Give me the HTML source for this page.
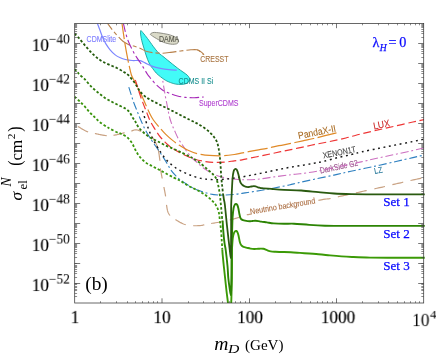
<!DOCTYPE html><html><head><meta charset="utf-8"><title>plot</title><style>
html,body{margin:0;padding:0;background:#fff;}
#c{position:relative;width:436px;height:354px;overflow:hidden;background:#fff;font-family:"Liberation Serif", serif;color:#000;will-change:transform;}
.t{position:absolute;white-space:nowrap;line-height:1;}
.yl{position:absolute;white-space:nowrap;line-height:1;font-size:18px;right:366.5px;transform-origin:100% 50%;transform:translate(-0.2px,0.4px) scale(0.95,0.94);will-change:transform;-webkit-text-stroke:0.18px #000;}
.yl sup{font-size:14px;vertical-align:baseline;position:relative;top:-8.1px;left:0px;-webkit-text-stroke:0.05px #000;}
.xl{position:absolute;white-space:nowrap;line-height:1;font-size:18px;top:308.4px;transform:translate(-50%,0.5px) scale(0.955,0.95);will-change:transform;-webkit-text-stroke:0.18px #000;}
.bl{color:#0a0aff;-webkit-text-stroke:0.25px #0a0aff;}
</style></head><body><div id="c">
<svg width="436" height="354" viewBox="0 0 436 354" style="position:absolute;left:0;top:0">
<defs><clipPath id="cp"><rect x="74.7" y="23.5" width="350.2" height="279.5"/></clipPath></defs>
<g clip-path="url(#cp)" fill="none" stroke-linecap="butt" stroke-linejoin="round">
<path d="M77.9 126.4 L78.29 126.64 L78.82 126.97 L79.44 127.37 L80.13 127.8 L80.86 128.25 L81.61 128.7 L82.33 129.12 L83 129.5 L83.63 129.84 L84.24 130.17 L84.84 130.49 L85.44 130.79 L86.06 131.09 L86.71 131.37 L87.38 131.64 L88.1 131.9 L88.1 131.9 M94.9 133.5 L95.7 133.68 L96.48 133.86 L97.26 134.03 L98.02 134.2 L98.77 134.36 L99.52 134.52 L100.26 134.66 L101 134.8 L101.72 134.93 L102.43 135.06 L103.12 135.18 L103.81 135.3 L104.5 135.4 L105.21 135.49 L105.94 135.56 L106.7 135.6 L106.7 135.6 M113.5 135.3 L114.25 135.2 L114.96 135.09 L115.65 134.96 L116.33 134.82 L116.99 134.68 L117.65 134.52 L118.32 134.36 L119 134.2 L119.69 134.03 L120.37 133.86 L121.05 133.68 L121.73 133.49 L122.42 133.29 L123.13 133.1 L123.85 132.9 L124.6 132.7 L124.6 132.7 M131.2 131 L131.89 130.81 L132.54 130.6 L133.15 130.39 L133.74 130.2 L134.32 130.03 L134.9 129.9 L135.49 129.82 L136.1 129.8 L136.73 129.86 L137.36 129.98 L137.99 130.15 L138.62 130.36 L139.26 130.59 L139.91 130.83 L140.55 131.07 L141.2 131.3 L141.2 131.3 M151.4 136.1 L151.94 136.68 L152.47 137.32 L152.98 138.01 L153.47 138.75 L153.95 139.52 L154.42 140.33 L154.87 141.16 L155.3 142 L155.72 142.85 L156.12 143.72 L156.51 144.61 L156.89 145.53 L157.24 146.49 L157.58 147.5 L157.9 148.57 L158.2 149.7 L158.48 150.94 L158.74 152.3 L158.98 153.73 L159.2 155.2 L159.4 156.67 L159.59 158.1 L159.75 159.46 L159.9 160.7 L159.9 160.7 M160.4 168.4 L160.47 169.03 L160.53 169.52 L160.59 169.92 L160.66 170.28 L160.73 170.62 L160.81 170.99 L160.9 171.44 L161 172 L161.12 172.66 L161.25 173.37 L161.38 174.14 L161.53 174.94 L161.69 175.79 L161.85 176.67 L162.02 177.57 L162.2 178.5 L162.2 178.5 M163.9 187 L164.12 188.13 L164.34 189.29 L164.57 190.46 L164.8 191.65 L165.02 192.84 L165.23 194.01 L165.43 195.17 L165.6 196.3 L165.6 196.3 M166.5 204.8 L166.64 205.75 L166.78 206.69 L166.92 207.6 L167.07 208.49 L167.23 209.34 L167.4 210.14 L167.59 210.9 L167.8 211.6 L168.03 212.24 L168.28 212.82 L168.55 213.35 L168.82 213.83 L169.11 214.28 L169.41 214.71 L169.7 215.11 L170 215.5 L170 215.5 M175.5 219.6 L176.04 219.92 L176.63 220.29 L177.26 220.68 L177.92 221.08 L178.6 221.49 L179.28 221.89 L179.95 222.26 L180.6 222.6 L181.22 222.91 L181.82 223.21 L182.4 223.5 L182.99 223.78 L183.6 224.03 L184.25 224.27 L184.94 224.5 L185.7 224.7 L185.7 224.7 M193.3 225.7 L194.28 225.74 L195.3 225.75 L196.33 225.73 L197.36 225.71 L198.36 225.66 L199.3 225.61 L200.15 225.56 L200.9 225.5 L201.5 225.44 L201.97 225.37 L202.33 225.3 L202.65 225.22 L202.96 225.13 L203.31 225.03 L203.74 224.92 L204.3 224.8 L204.3 224.8 M211.1 223.5 L212.42 223.28 L213.95 223.04 L215.61 222.78 L217.34 222.51 L219.06 222.24 L220.7 221.98 L222.21 221.73 L223.5 221.5 L223.5 221.5 M229.7 220 L230.75 219.72 L231.91 219.4 L233.14 219.07 L234.42 218.71 L235.7 218.35 L236.97 217.99 L238.18 217.64 L239.3 217.3 L239.3 217.3 M246.8 214.8 L247.31 214.66 L247.5 214.63 L247.53 214.64 L247.56 214.68 L247.75 214.68 L248.28 214.61 L249.31 214.43 L251 214.1 L251 214.1 M318.4 200.3 L321.22 199.79 L323.42 199.43 L325.13 199.18 L326.47 199.02 L327.57 198.9 L328.54 198.8 L329.51 198.68 L330.6 198.5 L330.6 198.5 M337.84 196.8 L339.27 196.5 L340.85 196.16 L342.55 195.8 L344.33 195.42 L346.16 195.04 L348 194.65 L348.61 194.52 M355.91 192.91 L357.8 192.49 L359.67 192.06 L361.49 191.65 L363.21 191.27 L364.8 190.91 L366.24 190.59 L366.68 190.49 M374.4 188.8 L375.68 188.52 L377.02 188.23 L378.41 187.94 L379.81 187.64 L381.19 187.34 L382.54 187.05 L383.82 186.77 L385 186.5 L385 186.5 M392.4 184.7 L393.61 184.42 L394.94 184.11 L396.35 183.78 L397.81 183.44 L399.26 183.11 L400.67 182.79 L401.99 182.48 L403.2 182.2 L403.2 182.2 M410.5 180.5 L411.76 180.23 L413.23 179.91 L414.8 179.58 L416.41 179.24 L417.95 178.92 L419.36 178.63 L420.53 178.38 L421.4 178.2 L421.4 178.2" stroke="#c9a283" stroke-width="1.2"/>
<path d="M150.3 34.2 C150.37 33.82 151.15 33.3 151.8 33 C152.45 32.7 153.03 32.43 154.2 32.4 C155.37 32.37 157.28 32.62 158.8 32.8 C160.32 32.98 161.78 33.23 163.3 33.5 C164.82 33.77 166.37 34.02 167.9 34.4 C169.43 34.78 171.12 35.27 172.5 35.8 C173.88 36.33 175.28 36.92 176.2 37.6 C177.12 38.28 177.67 39.13 178 39.9 C178.33 40.67 178.42 41.55 178.2 42.2 C177.98 42.85 177.65 43.45 176.7 43.8 C175.75 44.15 173.97 44.33 172.5 44.3 C171.03 44.27 169.43 43.95 167.9 43.6 C166.37 43.25 164.82 42.82 163.3 42.2 C161.78 41.58 160.32 40.73 158.8 39.9 C157.28 39.07 155.43 37.97 154.2 37.2 C152.97 36.43 152.05 35.8 151.4 35.3 C150.75 34.8 150.23 34.58 150.3 34.2Z" fill="#dadac8" stroke="#85857a" stroke-width="0.9"/>
<path d="M140.8 30.6 C141.17 30.37 142.08 31.8 142.8 32.6 C143.52 33.4 144.32 34.42 145.1 35.4 C145.88 36.38 146.65 37.37 147.5 38.5 C148.35 39.63 149.2 40.82 150.2 42.2 C151.2 43.58 152.37 45.3 153.5 46.8 C154.63 48.3 155.92 49.97 157 51.2 C158.08 52.43 159.02 53.35 160 54.2 C160.98 55.05 161.65 55.32 162.9 56.3 C164.15 57.28 165.87 58.77 167.5 60.1 C169.13 61.43 170.97 62.92 172.7 64.3 C174.43 65.68 176.18 67.12 177.9 68.4 C179.62 69.68 181.45 70.88 183 72 C184.55 73.12 186.17 74.15 187.2 75.1 C188.23 76.05 188.78 76.93 189.2 77.7 C189.62 78.47 189.87 78.93 189.7 79.7 C189.53 80.47 188.97 81.6 188.2 82.3 C187.43 83 186.3 83.55 185.1 83.9 C183.9 84.25 182.55 84.37 181 84.4 C179.45 84.43 177.53 84.4 175.8 84.1 C174.07 83.8 172.32 83.23 170.6 82.6 C168.88 81.97 167.22 81.3 165.5 80.3 C163.78 79.3 161.85 77.82 160.3 76.6 C158.75 75.38 157.48 74.37 156.2 73 C154.92 71.63 153.63 69.77 152.6 68.4 C151.57 67.03 150.83 66.28 150 64.8 C149.17 63.32 148.32 61.3 147.6 59.5 C146.88 57.7 146.27 55.75 145.7 54 C145.13 52.25 144.75 50.83 144.2 49 C143.65 47.17 142.88 44.75 142.4 43 C141.92 41.25 141.6 40 141.3 38.5 C141 37 140.68 35.32 140.6 34 C140.52 32.68 140.43 30.83 140.8 30.6Z" fill="#42fbf7" stroke="#17a09a" stroke-width="0.9"/>
<text x="86.6" y="42" fill="#7b7bff" stroke="#7b7bff" stroke-width="0.1" font-size="8.7" textLength="29.6" lengthAdjust="spacingAndGlyphs" font-family="Liberation Sans, sans-serif">CDMSlite</text>
<text x="159" y="41.9" fill="#55554a" stroke="#55554a" stroke-width="0.1" font-size="8.7" textLength="20.3" lengthAdjust="spacingAndGlyphs" font-family="Liberation Sans, sans-serif">DAMA</text>
<text x="200.3" y="61.6" fill="#a8733f" stroke="#a8733f" stroke-width="0.1" font-size="8.7" textLength="28.2" lengthAdjust="spacingAndGlyphs" font-family="Liberation Sans, sans-serif">CRESST</text>
<text x="178.6" y="83.7" fill="#198f8f" stroke="#198f8f" stroke-width="0.1" font-size="8.7" textLength="34.6" lengthAdjust="spacingAndGlyphs" font-family="Liberation Sans, sans-serif">CDMS II Si</text>
<text x="199" y="106" fill="#b03fd0" stroke="#b03fd0" stroke-width="0.1" font-size="8.7" textLength="39.5" lengthAdjust="spacingAndGlyphs" font-family="Liberation Sans, sans-serif">SuperCDMS</text>
<text x="298.8" y="139.1" transform="rotate(-11.3 298.8 139.1)" fill="#a8691f" stroke="#a8691f" stroke-width="0.1" font-size="9.8" textLength="38.3" lengthAdjust="spacingAndGlyphs" font-family="Liberation Sans, sans-serif">PandaX-II</text>
<text x="373.9" y="129.4" transform="rotate(-11.2 373.9 129.4)" fill="#cc2424" stroke="#cc2424" stroke-width="0.1" font-size="9.8" textLength="16.7" lengthAdjust="spacingAndGlyphs" font-family="Liberation Sans, sans-serif">LUX</text>
<text x="323.4" y="158.5" transform="rotate(-11.3 323.4 158.5)" fill="#444444" stroke="#444444" stroke-width="0.1" font-size="8.6" textLength="33.6" lengthAdjust="spacingAndGlyphs" font-family="Liberation Sans, sans-serif">XENON1T</text>
<text x="320.4" y="173.5" transform="rotate(-11.7 320.4 173.5)" fill="#98508a" stroke="#98508a" stroke-width="0.1" font-size="8.6" textLength="39" lengthAdjust="spacingAndGlyphs" font-family="Liberation Sans, sans-serif">DarkSide G2</text>
<text x="374.8" y="174" transform="rotate(-11 374.8 174)" fill="#2a7a9c" stroke="#2a7a9c" stroke-width="0.1" font-size="8.6" textLength="8.2" lengthAdjust="spacingAndGlyphs" font-family="Liberation Sans, sans-serif">LZ</text>
<text x="250.6" y="214.4" transform="rotate(-9.65 250.6 214.4)" fill="#a8683a" stroke="#a8683a" stroke-width="0.1" font-size="8.3" textLength="66" lengthAdjust="spacingAndGlyphs" font-family="Liberation Sans, sans-serif">Neutrino background</text>
<path d="M107.6 23.5 C108.45 24.63 111 28.18 112.7 30.3 C114.4 32.42 116.1 34.37 117.8 36.2 C119.5 38.03 121.07 39.88 122.9 41.3 C124.73 42.72 126.97 43.92 128.8 44.7 C130.63 45.48 132.03 45.4 133.9 46 C135.77 46.6 137.85 47.38 140 48.3 C142.15 49.22 144.53 50.77 146.8 51.5 C149.07 52.23 151.07 52.42 153.6 52.7 C156.13 52.98 159.17 53.25 162 53.2 C164.83 53.15 167.48 52.77 170.6 52.4 C173.72 52.03 177.32 51.43 180.7 51 C184.08 50.57 188.2 50 190.9 49.8 C193.6 49.6 195.2 49.37 196.9 49.8 C198.6 50.23 199.97 51.55 201.1 52.4 C202.23 53.25 203.27 54.48 203.7 54.9" stroke="#b8804a" stroke-width="1.1" stroke-dasharray="14 3 4 3" stroke-dashoffset="6.49"/>
<path d="M97.4 23.5 C97.83 24.63 99.15 28.05 100 30.3 C100.85 32.55 101.52 34.73 102.5 37 C103.48 39.27 104.63 41.77 105.9 43.9 C107.17 46.03 108.55 47.97 110.1 49.8 C111.65 51.63 113.5 53.57 115.2 54.9 C116.9 56.23 118.6 57.03 120.3 57.8 C122 58.57 123.42 59.05 125.4 59.5 C127.38 59.95 129.77 60.32 132.2 60.5 C134.63 60.68 137.85 60.2 140 60.6 C142.15 61 143.12 61.98 145.1 62.9 C147.08 63.82 149.35 65.18 151.9 66.1 C154.45 67.02 157.57 67.8 160.4 68.4 C163.23 69 166.17 69.42 168.9 69.7 C171.63 69.98 175.48 70.03 176.8 70.1" stroke="#7c86ff" stroke-width="1.2"/>
<path d="M123.4 23.5 C123.73 24.92 124.63 29.17 125.4 32 C126.17 34.83 127 37.83 128 40.5 C129 43.17 130.13 45.47 131.4 48 C132.67 50.53 134.17 53.33 135.6 55.7 C137.03 58.07 138.7 60.22 140 62.2 C141.3 64.18 142.13 65.55 143.4 67.6 C144.67 69.65 146.47 72.8 147.6 74.5 C148.73 76.2 148.92 76.25 150.2 77.8 C151.48 79.35 153.32 81.82 155.3 83.8 C157.28 85.78 159.83 88.15 162.1 89.7 C164.37 91.25 166.35 92.05 168.9 93.1 C171.45 94.15 174.58 95.28 177.4 96 C180.22 96.72 182.98 97.12 185.8 97.4 C188.62 97.68 191.32 97.77 194.3 97.7 C197.28 97.63 202.13 97.12 203.7 97" stroke="#a628b8" stroke-width="1.1" stroke-dasharray="9.5 3 2.5 3" stroke-dashoffset="1.01"/>
<path d="M162.8 80.8 C162.97 81.87 163.37 84.58 163.8 87.2 C164.23 89.82 164.88 93.7 165.4 96.5 C165.92 99.3 166.42 101.5 166.9 104 C167.38 106.5 167.8 109.08 168.3 111.5 C168.8 113.92 169.3 116.33 169.9 118.5 C170.5 120.67 171.17 122.58 171.9 124.5 C172.63 126.42 173.22 127.6 174.3 130 C175.38 132.4 176.98 136.32 178.4 138.9 C179.82 141.48 181.22 143.13 182.8 145.5 C184.38 147.87 186.03 150.7 187.9 153.1 C189.77 155.5 192.48 158.35 194 159.9 C195.52 161.45 195.37 160.98 197 162.4 C198.63 163.82 201.53 166.7 203.8 168.4 C206.07 170.1 208.33 171.38 210.6 172.6 C212.87 173.82 214.87 174.8 217.4 175.7 C219.93 176.6 222.98 177.43 225.8 178 C228.62 178.57 231.6 178.82 234.3 179.1 C237 179.38 238.22 179.67 242 179.7 C245.78 179.73 251.67 179.77 257 179.3 C262.33 178.83 268.35 177.67 274 176.9 C279.65 176.13 286.57 175.22 290.9 174.7 C295.23 174.18 295.65 174.38 300 173.8 C304.35 173.22 310.33 172.42 317 171.2 C323.67 169.98 332.65 168.05 340 166.5 C347.35 164.95 354.6 163.35 361.1 161.9 C367.6 160.45 373.18 159.08 379 157.8 C384.82 156.52 390.35 155.42 396 154.2 C401.65 152.98 408.23 151.53 412.9 150.5 C417.57 149.47 422.15 148.42 424 148" stroke="#cc70c0" stroke-width="1.1" stroke-dasharray="8 2.8 2 2.8" stroke-dashoffset="10.74"/>
<path d="M128.8 87.2 C129.23 88.57 130.55 92.77 131.4 95.4 C132.25 98.03 132.92 100.32 133.9 103 C134.88 105.68 136.23 108.83 137.3 111.5 C138.37 114.17 139.08 116.17 140.3 119 C141.52 121.83 143.17 125.65 144.6 128.5 C146.03 131.35 147.33 133.55 148.9 136.1 C150.47 138.65 152.45 141.53 154 143.8 C155.55 146.07 156.65 147.43 158.2 149.7 C159.75 151.97 161.75 155 163.3 157.4 C164.85 159.8 166.23 161.98 167.5 164.1 C168.77 166.22 169.62 168.25 170.9 170.1 C172.18 171.95 173.78 173.68 175.2 175.2 C176.62 176.72 177.93 178 179.4 179.2 C180.87 180.4 181.83 180.97 184 182.4 C186.17 183.83 189.58 186.33 192.4 187.8 C195.22 189.27 198.07 190.2 200.9 191.2 C203.73 192.2 206.57 193.17 209.4 193.8 C212.23 194.43 215.13 194.8 217.9 195 C220.67 195.2 222.98 195.13 226 195 C229.02 194.87 232.83 194.55 236 194.2 C239.17 193.85 242 193.35 245 192.9 C248 192.45 250.95 191.98 254 191.5 C257.05 191.02 260.13 190.55 263.3 190 C266.47 189.45 268.68 189.03 273 188.2 C277.32 187.37 285.08 185.88 289.2 185 C293.32 184.12 293.57 183.85 297.7 182.9 C301.83 181.95 307.95 180.6 314 179.3 C320.05 178 327.85 176.45 334 175.1 C340.15 173.75 344.23 172.65 350.9 171.2 C357.57 169.75 366.48 168.02 374 166.4 C381.52 164.78 389.52 162.97 396 161.5 C402.48 160.03 408.23 158.67 412.9 157.6 C417.57 156.53 422.15 155.52 424 155.1" stroke="#2f80c0" stroke-width="1.1" stroke-dasharray="8 2.8 2 2.8"/>
<path d="M142.5 110.9 C142.92 112.18 144.08 115.82 145 118.6 C145.92 121.38 147.07 124.97 148 127.6 C148.93 130.23 149.6 132.13 150.6 134.4 C151.6 136.67 152.6 138.65 154 141.2 C155.4 143.75 157.17 146.87 159 149.7 C160.83 152.53 163.02 155.8 165 158.2 C166.98 160.6 168.78 162.27 170.9 164.1 C173.02 165.93 175.43 167.78 177.7 169.2 C179.97 170.62 182.37 171.6 184.5 172.6 C186.63 173.6 188.42 174.4 190.5 175.2 C192.58 176 194.5 176.75 197 177.4 C199.5 178.05 202.02 178.72 205.5 179.1 C208.98 179.48 213.82 179.78 217.9 179.7 C221.98 179.62 226.32 179 230 178.6 C233.68 178.2 236.63 177.83 240 177.3 C243.37 176.77 246.8 176.05 250.2 175.4 C253.6 174.75 257 174.1 260.4 173.4 C263.8 172.7 267.22 171.92 270.6 171.2 C273.98 170.48 277.32 169.78 280.7 169.1 C284.08 168.42 287.22 167.75 290.9 167.1 C294.58 166.45 298.95 165.85 302.8 165.2 C306.65 164.55 310.65 163.82 314 163.2 C317.35 162.58 319.07 162.4 322.9 161.5 C326.73 160.6 332.3 158.95 337 157.8 C341.7 156.65 346.93 155.6 351.1 154.6 C355.27 153.6 357.35 152.85 362 151.8 C366.65 150.75 373.33 149.45 379 148.3 C384.67 147.15 390.35 146.03 396 144.9 C401.65 143.77 408.23 142.45 412.9 141.5 C417.57 140.55 422.15 139.58 424 139.2" stroke="#1a1a1a" stroke-width="1.45" stroke-dasharray="1.9 3.6"/>
<path d="M122 23.5 C122.28 25.48 123.13 31.58 123.7 35.4 C124.27 39.22 124.83 43.02 125.4 46.4 C125.97 49.78 126.47 52.45 127.1 55.7 C127.73 58.95 128.48 62.68 129.2 65.9 C129.92 69.12 130.57 72.57 131.4 75 C132.23 77.43 133.13 78.33 134.2 80.5 C135.27 82.67 136.55 85.48 137.8 88 C139.05 90.52 140.48 93.05 141.7 95.6 C142.92 98.15 143.83 100.47 145.1 103.3 C146.37 106.13 147.92 109.82 149.3 112.6 C150.68 115.38 151.78 117.63 153.4 120 C155.02 122.37 156.93 124.4 159 126.8 C161.07 129.2 163.53 132.13 165.8 134.4 C168.07 136.67 170.33 138.58 172.6 140.4 C174.87 142.22 176.92 143.7 179.4 145.3 C181.88 146.9 184.57 148.62 187.5 150 C190.43 151.38 194 152.75 197 153.6 C200 154.45 202.67 154.75 205.5 155.1 C208.33 155.45 210.9 155.6 214 155.7 C217.1 155.8 220.72 155.9 224.1 155.7 C227.48 155.5 231.48 154.92 234.3 154.5 C237.12 154.08 238.63 153.67 241 153.2 C243.37 152.73 245.83 152.22 248.5 151.7 C251.17 151.18 253.88 150.67 257 150.1 C260.12 149.53 263.53 149.03 267.2 148.3 C270.87 147.57 275.05 146.52 279 145.7 C282.95 144.88 286.93 144.22 290.9 143.4 C294.87 142.58 299 141.62 302.8 140.8 C306.6 139.98 310 139.35 313.7 138.5 C317.4 137.65 321.2 136.65 325 135.7 C328.8 134.75 334.58 133.28 336.5 132.8" stroke="#e08a28" stroke-width="1.2" stroke-dasharray="20.3 3.5" stroke-dashoffset="4.56"/>
<path d="M135.3 80 C135.58 80.83 136.22 82.53 137 85 C137.78 87.47 138.93 91.62 140 94.8 C141.07 97.98 142.27 101.13 143.4 104.1 C144.53 107.07 145.75 109.95 146.8 112.6 C147.85 115.25 148.5 117.5 149.7 120 C150.9 122.5 152.45 125.05 154 127.6 C155.55 130.15 157.17 132.88 159 135.3 C160.83 137.72 163.02 140.12 165 142.1 C166.98 144.08 168.78 145.65 170.9 147.2 C173.02 148.75 175.15 149.98 177.7 151.4 C180.25 152.82 183.32 154.4 186.2 155.7 C189.08 157 191.78 158.22 195 159.2 C198.22 160.18 202.33 161.07 205.5 161.6 C208.67 162.13 210.9 162.32 214 162.4 C217.1 162.48 220.72 162.37 224.1 162.1 C227.48 161.83 231.32 161.18 234.3 160.8 C237.28 160.42 239.35 160.25 242 159.8 C244.65 159.35 247.13 158.72 250.2 158.1 C253.27 157.48 257 156.8 260.4 156.1 C263.8 155.4 267.22 154.63 270.6 153.9 C273.98 153.17 277.32 152.42 280.7 151.7 C284.08 150.98 287.22 150.37 290.9 149.6 C294.58 148.83 298.95 147.93 302.8 147.1 C306.65 146.27 309.63 145.5 314 144.6 C318.37 143.7 323.68 142.8 329 141.7 C334.32 140.6 340.4 139.33 345.9 138 C351.4 136.67 356.48 135.08 362 133.7 C367.52 132.32 373.33 131 379 129.7 C384.67 128.4 390.35 127.18 396 125.9 C401.65 124.62 408.23 123.05 412.9 122 C417.57 120.95 422.15 120 424 119.6" stroke="#ee3535" stroke-width="1.2" stroke-dasharray="7.8 3.7" stroke-dashoffset="11.48"/>
<path d="M74.5 96.7 C75.35 97.47 77.9 99.68 79.6 101.3 C81.3 102.92 83 104.55 84.7 106.4 C86.4 108.25 88.1 110.57 89.8 112.4 C91.5 114.23 93.2 115.77 94.9 117.4 C96.6 119.03 98.03 120.63 100 122.2 C101.97 123.77 105.02 125.7 106.7 126.8 C108.38 127.9 108.4 127.9 110.1 128.8 C111.8 129.7 115.08 131.37 116.9 132.2 C118.72 133.03 119.35 133 121 133.8 C122.65 134.6 124.98 135.48 126.8 137 C128.62 138.52 130.48 140.78 131.9 142.9 C133.32 145.02 134.03 147.43 135.3 149.7 C136.57 151.97 137.8 154.38 139.5 156.5 C141.2 158.62 143.37 160.78 145.5 162.4 C147.63 164.02 150.05 164.98 152.3 166.2 C154.55 167.42 156.8 168.53 159 169.7 C161.2 170.87 163.03 171.88 165.5 173.2 C167.97 174.52 171.48 176.42 173.8 177.6 C176.12 178.78 177.7 179.37 179.4 180.3 C181.1 181.23 182.12 182.08 184 183.2 C185.88 184.32 188.17 185.67 190.7 187 C193.23 188.33 196.65 189.78 199.2 191.2 C201.75 192.62 203.87 193.93 206 195.5 C208.13 197.07 210.3 198.92 212 200.6 C213.7 202.28 215.07 203.63 216.2 205.6 C217.33 207.57 218.18 209.85 218.8 212.4 C219.42 214.95 219.53 217.97 219.9 220.9 C220.27 223.83 220.7 226.82 221 230 C221.3 233.18 221.48 236.73 221.7 240 C221.92 243.27 222.2 248 222.3 249.6" stroke="#3a960c" stroke-width="1.8" stroke-dasharray="2.5 2.0"/>
<path d="M74.5 69 C75.07 69.62 77.05 71.73 77.9 72.7 C78.75 73.67 78.47 73.72 79.6 74.8 C80.73 75.88 82.72 77.18 84.7 79.2 C86.68 81.22 89.23 84.63 91.5 86.9 C93.77 89.17 96.05 90.97 98.3 92.8 C100.55 94.63 102.75 96.4 105 97.9 C107.25 99.4 109.53 100.58 111.8 101.8 C114.07 103.02 116.33 104.07 118.6 105.2 C120.87 106.33 123.55 107.4 125.4 108.6 C127.25 109.8 128.42 110.78 129.7 112.4 C130.98 114.02 132.12 116.7 133.1 118.3 C134.08 119.9 134.7 120.52 135.6 122 C136.5 123.48 137.13 125.42 138.5 127.2 C139.87 128.98 141.78 130.93 143.8 132.7 C145.82 134.47 148.33 136.38 150.6 137.8 C152.87 139.22 154.87 139.92 157.4 141.2 C159.93 142.48 162.98 144.17 165.8 145.5 C168.62 146.83 171.47 147.93 174.3 149.2 C177.13 150.47 180.25 151.88 182.8 153.1 C185.35 154.32 187.8 155.57 189.6 156.5 C191.4 157.43 191.8 157.57 193.6 158.7 C195.4 159.83 198.07 161.5 200.4 163.3 C202.73 165.1 205.5 167.67 207.6 169.5 C209.7 171.33 211.53 172.72 213 174.3 C214.47 175.88 215.47 176.88 216.4 179 C217.33 181.12 218.02 184.25 218.6 187 C219.18 189.75 219.53 192.67 219.9 195.5 C220.27 198.33 220.52 201.18 220.8 204 C221.08 206.82 221.35 209.67 221.6 212.4 C221.85 215.13 222.18 219.07 222.3 220.4" stroke="#2f7d0c" stroke-width="1.8" stroke-dasharray="2.5 2.0"/>
<path d="M74.5 33.7 C75.2 34.4 77.28 36.35 78.7 37.9 C80.12 39.45 81.43 41.15 83 43 C84.57 44.85 86.4 47.1 88.1 49 C89.8 50.9 91.5 52.77 93.2 54.4 C94.9 56.03 96.6 57.53 98.3 58.8 C100 60.07 101.43 60.95 103.4 62 C105.37 63.05 107.85 64.1 110.1 65.1 C112.35 66.1 114.63 66.87 116.9 68 C119.17 69.13 121.78 70.7 123.7 71.9 C125.62 73.1 126.7 73.55 128.4 75.2 C130.1 76.85 132.42 79.83 133.9 81.8 C135.38 83.77 136.22 85.3 137.3 87 C138.38 88.7 138.82 90.22 140.4 92 C141.98 93.78 144.32 95.97 146.8 97.7 C149.28 99.43 152.47 100.9 155.3 102.4 C158.13 103.9 160.97 105.28 163.8 106.7 C166.63 108.12 169.48 109.48 172.3 110.9 C175.12 112.32 177.75 113.68 180.7 115.2 C183.65 116.72 187.28 118.63 190 120 C192.72 121.37 194.7 122.13 197 123.4 C199.3 124.67 201.68 126.13 203.8 127.6 C205.92 129.07 208 130.63 209.7 132.2 C211.4 133.77 212.78 135.35 214 137 C215.22 138.65 216.22 140.12 217 142.1 C217.78 144.08 218.22 146.35 218.7 148.9 C219.18 151.45 219.57 154.3 219.9 157.4 C220.23 160.5 220.47 164.12 220.7 167.5 C220.93 170.88 221.05 174.62 221.3 177.7 C221.55 180.78 221.92 183.32 222.2 186 C222.48 188.68 222.87 192.5 223 193.8" stroke="#235a0c" stroke-width="1.8" stroke-dasharray="2.5 2.0"/>
<path d="M222.3 249.6 C222.37 250.5 222.45 252.27 222.7 255 C222.95 257.73 223.4 262.17 223.8 266 C224.2 269.83 224.65 273.83 225.1 278 C225.55 282.17 226.02 286.83 226.5 291 C226.98 295.17 227.58 299.5 228 303 C228.42 306.5 228.57 310.5 229 312 C229.43 313.5 230.23 313.5 230.6 312 C230.97 310.5 231.03 306.67 231.2 303 C231.37 299.33 231.48 294.17 231.6 290 C231.72 285.83 231.83 282.17 231.9 278 C231.97 273.83 231.98 269.67 232 265 C232.02 260.33 231.95 253.5 232 250 C232.05 246.5 232.17 246 232.3 244 C232.43 242 232.55 239.75 232.8 238 C233.05 236.25 233.43 234.62 233.8 233.5 C234.17 232.38 234.58 231.72 235 231.3 C235.42 230.88 235.9 230.85 236.3 231 C236.7 231.15 237.03 231.45 237.4 232.2 C237.77 232.95 238.12 233.95 238.5 235.5 C238.88 237.05 239.35 240.05 239.7 241.5 C240.05 242.95 240.25 243.48 240.6 244.2 C240.95 244.92 241.32 245.35 241.8 245.8 C242.28 246.25 242.63 246.57 243.5 246.9 C244.37 247.23 245.83 247.52 247 247.8 C248.17 248.08 249.3 248.4 250.5 248.6 C251.7 248.8 252.87 248.98 254.2 249 C255.53 249.02 256.98 248.73 258.5 248.7 C260.02 248.67 261.88 248.55 263.3 248.8 C264.72 249.05 265.77 249.77 267 250.2 C268.23 250.63 269.28 251.13 270.7 251.4 C272.12 251.67 273.67 251.7 275.5 251.8 C277.33 251.9 279.15 251.92 281.7 252 C284.25 252.08 287.75 252.15 290.8 252.3 C293.85 252.45 295.4 252.58 300 252.9 C304.6 253.22 313.4 253.78 318.4 254.2 C323.4 254.62 326.15 255.03 330 255.4 C333.85 255.77 337.83 256.13 341.5 256.4 C345.17 256.67 347.25 256.8 352 257 C356.75 257.2 362.83 257.48 370 257.6 C377.17 257.72 385.87 257.68 395 257.7 C404.13 257.72 419.83 257.7 424.8 257.7" stroke="#3b9a06" stroke-width="1.9"/>
<path d="M222.3 220.4 C222.37 220.67 222.55 220.4 222.7 222 C222.85 223.6 222.9 226.5 223.2 230 C223.5 233.5 224.08 239.67 224.5 243 C224.92 246.33 225.2 246.17 225.7 250 C226.2 253.83 227.07 261.33 227.5 266 C227.93 270.67 227.95 274.33 228.3 278 C228.65 281.67 229.18 285.17 229.6 288 C230.02 290.83 230.53 295 230.8 295 C231.07 295 231.1 290.83 231.2 288 C231.3 285.17 231.35 281.83 231.4 278 C231.45 274.17 231.47 269.67 231.5 265 C231.53 260.33 231.55 254.17 231.6 250 C231.65 245.83 231.7 243.67 231.8 240 C231.9 236.33 232.07 231.83 232.2 228 C232.33 224.17 232.37 220.33 232.6 217 C232.83 213.67 233.22 210.07 233.6 208 C233.98 205.93 234.47 205.28 234.9 204.6 C235.33 203.92 235.8 203.83 236.2 203.9 C236.6 203.97 236.93 204.23 237.3 205 C237.67 205.77 238.05 207 238.4 208.5 C238.75 210 239.08 212.48 239.4 214 C239.72 215.52 239.98 216.73 240.3 217.6 C240.62 218.47 240.88 218.8 241.3 219.2 C241.72 219.6 242.18 219.77 242.8 220 C243.42 220.23 243.85 220.4 245 220.6 C246.15 220.8 248.45 221.13 249.7 221.2 C250.95 221.27 251.53 221.07 252.5 221 C253.47 220.93 254.5 220.78 255.5 220.8 C256.5 220.82 257.55 220.97 258.5 221.1 C259.45 221.23 259.8 221.38 261.2 221.6 C262.6 221.82 264.8 222.1 266.9 222.4 C269 222.7 270.93 223.17 273.8 223.4 C276.67 223.63 280.73 223.75 284.1 223.8 C287.47 223.85 289.82 223.52 294 223.7 C298.18 223.88 304.03 224.57 309.2 224.9 C314.37 225.23 319.7 225.53 325 225.7 C330.3 225.87 336.6 225.87 341 225.9 C345.4 225.93 344.9 225.9 351.4 225.9 C357.9 225.9 367.77 225.9 380 225.9 C392.23 225.9 417.33 225.9 424.8 225.9" stroke="#2c8404" stroke-width="1.9"/>
<path d="M223 193.8 C223.07 194.17 223.23 194.97 223.4 196 C223.57 197.03 223.75 198.5 224 200 C224.25 201.5 224.42 200.83 224.9 205 C225.38 209.17 226.28 219.17 226.9 225 C227.52 230.83 228.08 235.5 228.6 240 C229.12 244.5 229.63 249 230 252 C230.37 255 230.62 258 230.8 258 C230.98 258 231 255 231.05 252 C231.1 249 231.08 244.5 231.1 240 C231.12 235.5 231.13 230.83 231.15 225 C231.17 219.17 231.07 210.83 231.2 205 C231.32 199.17 231.67 194.5 231.9 190 C232.13 185.5 232.32 181.08 232.6 178 C232.88 174.92 233.23 172.95 233.6 171.5 C233.97 170.05 234.42 169.72 234.8 169.3 C235.18 168.88 235.53 168.85 235.9 169 C236.27 169.15 236.6 169.37 237 170.2 C237.4 171.03 237.88 172.53 238.3 174 C238.72 175.47 239.1 177.52 239.5 179 C239.9 180.48 240.2 181.9 240.7 182.9 C241.2 183.9 241.87 184.43 242.5 185 C243.13 185.57 243.83 185.98 244.5 186.3 C245.17 186.62 245.78 186.78 246.5 186.9 C247.22 187.02 247.97 187.07 248.8 187 C249.63 186.93 250.65 186.65 251.5 186.5 C252.35 186.35 253.2 186.12 253.9 186.1 C254.6 186.08 255.13 186.25 255.7 186.4 C256.27 186.55 256.67 186.78 257.3 187 C257.93 187.22 258.72 187.5 259.5 187.7 C260.28 187.9 259.92 187.98 262 188.2 C264.08 188.42 268.33 188.73 272 189 C275.67 189.27 279.13 189.55 284 189.8 C288.87 190.05 295.47 190.12 301.2 190.5 C306.93 190.88 312.93 191.6 318.4 192.1 C323.87 192.6 328.5 193.17 334 193.5 C339.5 193.83 344.27 193.95 351.4 194.1 C358.53 194.25 368.7 194.35 376.8 194.4 C384.9 194.45 392 194.4 400 194.4 C408 194.4 420.67 194.4 424.8 194.4" stroke="#2a5a10" stroke-width="1.8"/>
<path d="M197.2 49.8 C199.5 50.3 201.6 52.2 204.1 54.6" stroke="#b8804a" stroke-width="1.1"/>
</g>
<path d="M74.7 296.5 h2.4 M423.7 296.5 h-2.4 M74.7 293.5 h2.4 M423.7 293.5 h-2.4 M74.7 290.5 h2.4 M423.7 290.5 h-2.4 M74.7 289.5 h2.4 M423.7 289.5 h-2.4 M74.7 287.5 h2.4 M423.7 287.5 h-2.4 M74.7 286.5 h2.4 M423.7 286.5 h-2.4 M74.7 284.5 h2.4 M423.7 284.5 h-2.4 M74.7 283.5 h2.4 M423.7 283.5 h-2.4 M74.7 277.5 h2.4 M423.7 277.5 h-2.4 M74.7 273.5 h2.4 M423.7 273.5 h-2.4 M74.7 271.5 h2.4 M423.7 271.5 h-2.4 M74.7 269.5 h2.4 M423.7 269.5 h-2.4 M74.7 267.5 h2.4 M423.7 267.5 h-2.4 M74.7 266.5 h2.4 M423.7 266.5 h-2.4 M74.7 265.5 h2.4 M423.7 265.5 h-2.4 M74.7 263.5 h2.4 M423.7 263.5 h-2.4 M74.7 257.5 h2.4 M423.7 257.5 h-2.4 M74.7 253.5 h2.4 M423.7 253.5 h-2.4 M74.7 251.5 h2.4 M423.7 251.5 h-2.4 M74.7 249.5 h2.4 M423.7 249.5 h-2.4 M74.7 247.5 h2.4 M423.7 247.5 h-2.4 M74.7 246.5 h2.4 M423.7 246.5 h-2.4 M74.7 245.5 h2.4 M423.7 245.5 h-2.4 M74.7 244.5 h2.4 M423.7 244.5 h-2.4 M74.7 237.5 h2.4 M423.7 237.5 h-2.4 M74.7 233.5 h2.4 M423.7 233.5 h-2.4 M74.7 231.5 h2.4 M423.7 231.5 h-2.4 M74.7 229.5 h2.4 M423.7 229.5 h-2.4 M74.7 227.5 h2.4 M423.7 227.5 h-2.4 M74.7 226.5 h2.4 M423.7 226.5 h-2.4 M74.7 225.5 h2.4 M423.7 225.5 h-2.4 M74.7 224.5 h2.4 M423.7 224.5 h-2.4 M74.7 217.5 h2.4 M423.7 217.5 h-2.4 M74.7 213.5 h2.4 M423.7 213.5 h-2.4 M74.7 211.5 h2.4 M423.7 211.5 h-2.4 M74.7 209.5 h2.4 M423.7 209.5 h-2.4 M74.7 207.5 h2.4 M423.7 207.5 h-2.4 M74.7 206.5 h2.4 M423.7 206.5 h-2.4 M74.7 205.5 h2.4 M423.7 205.5 h-2.4 M74.7 204.5 h2.4 M423.7 204.5 h-2.4 M74.7 197.5 h2.4 M423.7 197.5 h-2.4 M74.7 193.5 h2.4 M423.7 193.5 h-2.4 M74.7 191.5 h2.4 M423.7 191.5 h-2.4 M74.7 189.5 h2.4 M423.7 189.5 h-2.4 M74.7 187.5 h2.4 M423.7 187.5 h-2.4 M74.7 186.5 h2.4 M423.7 186.5 h-2.4 M74.7 185.5 h2.4 M423.7 185.5 h-2.4 M74.7 184.5 h2.4 M423.7 184.5 h-2.4 M74.7 177.5 h2.4 M423.7 177.5 h-2.4 M74.7 173.5 h2.4 M423.7 173.5 h-2.4 M74.7 171.5 h2.4 M423.7 171.5 h-2.4 M74.7 169.5 h2.4 M423.7 169.5 h-2.4 M74.7 167.5 h2.4 M423.7 167.5 h-2.4 M74.7 166.5 h2.4 M423.7 166.5 h-2.4 M74.7 165.5 h2.4 M423.7 165.5 h-2.4 M74.7 164.5 h2.4 M423.7 164.5 h-2.4 M74.7 157.5 h2.4 M423.7 157.5 h-2.4 M74.7 153.5 h2.4 M423.7 153.5 h-2.4 M74.7 151.5 h2.4 M423.7 151.5 h-2.4 M74.7 149.5 h2.4 M423.7 149.5 h-2.4 M74.7 147.5 h2.4 M423.7 147.5 h-2.4 M74.7 146.5 h2.4 M423.7 146.5 h-2.4 M74.7 145.5 h2.4 M423.7 145.5 h-2.4 M74.7 144.5 h2.4 M423.7 144.5 h-2.4 M74.7 137.5 h2.4 M423.7 137.5 h-2.4 M74.7 133.5 h2.4 M423.7 133.5 h-2.4 M74.7 131.5 h2.4 M423.7 131.5 h-2.4 M74.7 129.5 h2.4 M423.7 129.5 h-2.4 M74.7 127.5 h2.4 M423.7 127.5 h-2.4 M74.7 126.5 h2.4 M423.7 126.5 h-2.4 M74.7 125.5 h2.4 M423.7 125.5 h-2.4 M74.7 124.5 h2.4 M423.7 124.5 h-2.4 M74.7 117.5 h2.4 M423.7 117.5 h-2.4 M74.7 113.5 h2.4 M423.7 113.5 h-2.4 M74.7 111.5 h2.4 M423.7 111.5 h-2.4 M74.7 109.5 h2.4 M423.7 109.5 h-2.4 M74.7 107.5 h2.4 M423.7 107.5 h-2.4 M74.7 106.5 h2.4 M423.7 106.5 h-2.4 M74.7 105.5 h2.4 M423.7 105.5 h-2.4 M74.7 104.5 h2.4 M423.7 104.5 h-2.4 M74.7 97.5 h2.4 M423.7 97.5 h-2.4 M74.7 93.5 h2.4 M423.7 93.5 h-2.4 M74.7 91.5 h2.4 M423.7 91.5 h-2.4 M74.7 89.5 h2.4 M423.7 89.5 h-2.4 M74.7 87.5 h2.4 M423.7 87.5 h-2.4 M74.7 86.5 h2.4 M423.7 86.5 h-2.4 M74.7 85.5 h2.4 M423.7 85.5 h-2.4 M74.7 84.5 h2.4 M423.7 84.5 h-2.4 M74.7 77.5 h2.4 M423.7 77.5 h-2.4 M74.7 73.5 h2.4 M423.7 73.5 h-2.4 M74.7 71.5 h2.4 M423.7 71.5 h-2.4 M74.7 69.5 h2.4 M423.7 69.5 h-2.4 M74.7 67.5 h2.4 M423.7 67.5 h-2.4 M74.7 66.5 h2.4 M423.7 66.5 h-2.4 M74.7 65.5 h2.4 M423.7 65.5 h-2.4 M74.7 64.5 h2.4 M423.7 64.5 h-2.4 M74.7 57.5 h2.4 M423.7 57.5 h-2.4 M74.7 53.5 h2.4 M423.7 53.5 h-2.4 M74.7 51.5 h2.4 M423.7 51.5 h-2.4 M74.7 49.5 h2.4 M423.7 49.5 h-2.4 M74.7 47.5 h2.4 M423.7 47.5 h-2.4 M74.7 46.5 h2.4 M423.7 46.5 h-2.4 M74.7 45.5 h2.4 M423.7 45.5 h-2.4 M74.7 44.5 h2.4 M423.7 44.5 h-2.4 M74.7 37.5 h2.4 M423.7 37.5 h-2.4 M74.7 33.5 h2.4 M423.7 33.5 h-2.4 M74.7 31.5 h2.4 M423.7 31.5 h-2.4 M74.7 29.5 h2.4 M423.7 29.5 h-2.4 M74.7 27.5 h2.4 M423.7 27.5 h-2.4 M74.7 26.5 h2.4 M423.7 26.5 h-2.4 M74.7 25.5 h2.4 M423.7 25.5 h-2.4 M74.7 24.5 h2.4 M423.7 24.5 h-2.4 M100.5 303 v-1.8 M100.5 23.5 v1.8 M116.5 303 v-1.8 M116.5 23.5 v1.8 M127.5 303 v-1.8 M127.5 23.5 v1.8 M135.5 303 v-1.8 M135.5 23.5 v1.8 M142.5 303 v-1.8 M142.5 23.5 v1.8 M148.5 303 v-1.8 M148.5 23.5 v1.8 M153.5 303 v-1.8 M153.5 23.5 v1.8 M157.5 303 v-1.8 M157.5 23.5 v1.8 M188.5 303 v-1.8 M188.5 23.5 v1.8 M203.5 303 v-1.8 M203.5 23.5 v1.8 M214.5 303 v-1.8 M214.5 23.5 v1.8 M222.5 303 v-1.8 M222.5 23.5 v1.8 M229.5 303 v-1.8 M229.5 23.5 v1.8 M235.5 303 v-1.8 M235.5 23.5 v1.8 M240.5 303 v-1.8 M240.5 23.5 v1.8 M245.5 303 v-1.8 M245.5 23.5 v1.8 M275.5 303 v-1.8 M275.5 23.5 v1.8 M290.5 303 v-1.8 M290.5 23.5 v1.8 M301.5 303 v-1.8 M301.5 23.5 v1.8 M310.5 303 v-1.8 M310.5 23.5 v1.8 M317.5 303 v-1.8 M317.5 23.5 v1.8 M322.5 303 v-1.8 M322.5 23.5 v1.8 M327.5 303 v-1.8 M327.5 23.5 v1.8 M332.5 303 v-1.8 M332.5 23.5 v1.8 M362.5 303 v-1.8 M362.5 23.5 v1.8 M378.5 303 v-1.8 M378.5 23.5 v1.8 M388.5 303 v-1.8 M388.5 23.5 v1.8 M397.5 303 v-1.8 M397.5 23.5 v1.8 M404.5 303 v-1.8 M404.5 23.5 v1.8 M410.5 303 v-1.8 M410.5 23.5 v1.8 M415.5 303 v-1.8 M415.5 23.5 v1.8 M419.5 303 v-1.8 M419.5 23.5 v1.8" stroke="#404040" stroke-width="0.6" fill="none"/>
<path d="M74.7 283.5 h5.5 M423.7 283.5 h-5.5 M74.7 263.5 h5.5 M423.7 263.5 h-5.5 M74.7 243.5 h5.5 M423.7 243.5 h-5.5 M74.7 223.5 h5.5 M423.7 223.5 h-5.5 M74.7 203.5 h5.5 M423.7 203.5 h-5.5 M74.7 183.5 h5.5 M423.7 183.5 h-5.5 M74.7 163.5 h5.5 M423.7 163.5 h-5.5 M74.7 143.5 h5.5 M423.7 143.5 h-5.5 M74.7 123.5 h5.5 M423.7 123.5 h-5.5 M74.7 103.5 h5.5 M423.7 103.5 h-5.5 M74.7 83.5 h5.5 M423.7 83.5 h-5.5 M74.7 63.5 h5.5 M423.7 63.5 h-5.5 M74.7 43.5 h5.5 M423.7 43.5 h-5.5 M162 303 v-4.7 M162 23.5 v4.7 M249.5 303 v-4.7 M249.5 23.5 v4.7 M336.5 303 v-4.7 M336.5 23.5 v4.7" stroke="#4a4a4a" stroke-width="0.75" fill="none"/>
<rect x="74.7" y="23.5" width="349" height="279.5" fill="none" stroke="#363636" stroke-width="0.75"/>
</svg>
<div class="yl" style="top:35.96px">10<sup>&minus;40</sup></div>
<div class="yl" style="top:75.89px">10<sup>&minus;42</sup></div>
<div class="yl" style="top:115.82px">10<sup>&minus;44</sup></div>
<div class="yl" style="top:155.75px">10<sup>&minus;46</sup></div>
<div class="yl" style="top:195.68px">10<sup>&minus;48</sup></div>
<div class="yl" style="top:235.61px">10<sup>&minus;50</sup></div>
<div class="yl" style="top:275.54px">10<sup>&minus;52</sup></div>
<div class="xl" style="left:74.7px">1</div>
<div class="xl" style="left:162.15px">10</div>
<div class="xl" style="left:249.9px">100</div>
<div class="xl" style="left:338.05px">1000</div>
<div class="t" style="font-size:18px;top:311.4px;left:411.6px;transform-origin:0 50%;transform:translateY(0.4px) scale(0.97,0.95);will-change:transform">10<sup style="font-size:13.5px;vertical-align:baseline;position:relative;top:-7.6px;left:0.6px">4</sup></div>
<div class="t" style="left:214.2px;top:333.9px;font-size:19.6px"><i>m</i><i style="font-size:12.9px;position:relative;top:3.3px;left:-0.2px;display:inline-block;transform-origin:0 100%;transform:scale(1.22,1)">D</i><span style="font-size:15.1px;position:relative;left:7.3px;top:0.4px">(GeV)</span></div>
<div class="t" style="left:22.2px;top:202px;transform-origin:0 0;transform:rotate(-90deg);height:0"><div style="position:absolute;left:1.4px;top:-13.6px;font-size:17.5px;font-style:italic">&sigma;</div><div style="position:absolute;left:12.6px;top:-4.6px;font-size:12.8px">el</div><div style="position:absolute;left:15.6px;top:-21.6px;font-size:13.6px;font-style:italic">N</div><div style="position:absolute;left:35.6px;top:-16.3px;font-size:17.5px;transform-origin:0 70%%;transform:scale(0.9,1.1)">(</div><div style="position:absolute;left:41.5px;top:-14.4px;font-size:17px">cm</div><div style="position:absolute;left:62.8px;top:-16.4px;font-size:11.4px">2</div><div style="position:absolute;left:70.1px;top:-16.3px;font-size:17.5px;transform-origin:0 70%%;transform:scale(0.9,1.1)">)</div></div>
<div class="t bl" style="left:372.5px;top:35.4px;font-size:14.2px">&lambda;<i style="font-size:9.6px;position:relative;top:3.4px;left:0.4px">H</i><span style="position:relative;left:2.2px">=&nbsp;<span style="position:relative;left:-0.9px">0</span></span></div>
<div class="t" style="left:85.2px;top:273.6px;font-size:19.4px">(b)</div>
<div class="t bl" style="left:383.2px;top:195.4px;font-size:13.1px">Set 1</div>
<div class="t bl" style="left:383.2px;top:227.3px;font-size:13.1px">Set 2</div>
<div class="t bl" style="left:383.2px;top:258.9px;font-size:13.1px">Set 3</div>
</div></body></html>
